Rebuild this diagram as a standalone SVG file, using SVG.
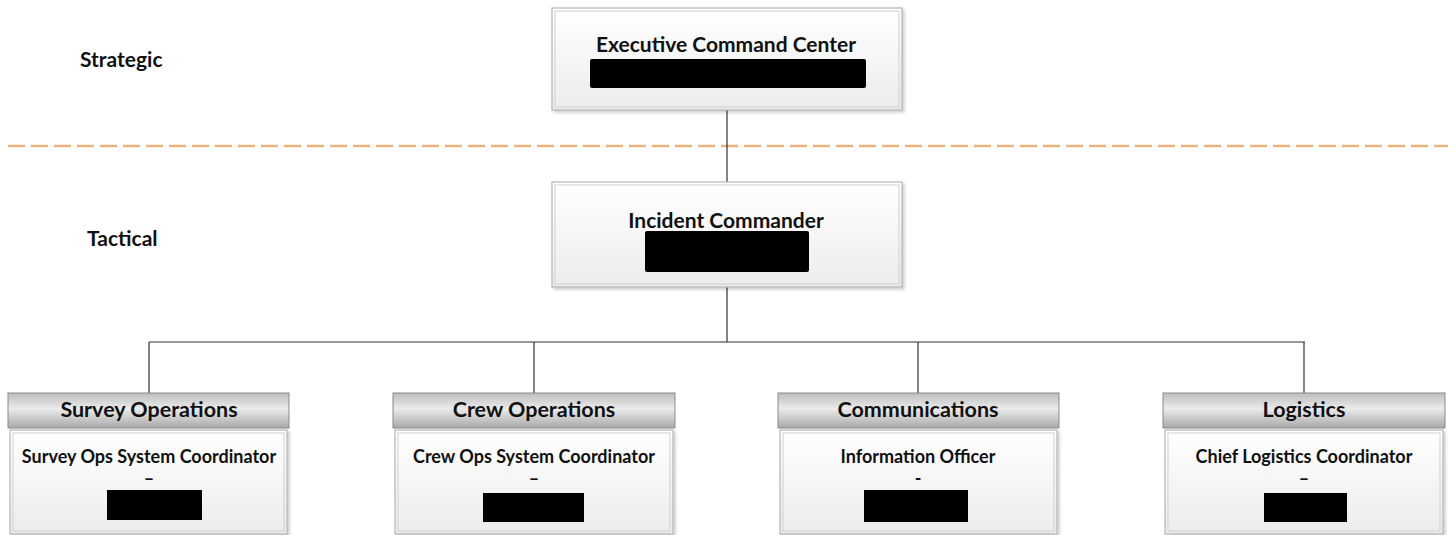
<svg xmlns="http://www.w3.org/2000/svg" width="1456" height="535" viewBox="0 0 1456 535">
<defs>
<linearGradient id="boxg" x1="0" y1="0" x2="0" y2="1">
<stop offset="0" stop-color="#ffffff"/>
<stop offset="1" stop-color="#ececec"/>
</linearGradient>
<linearGradient id="hdrg" x1="0" y1="0" x2="0" y2="1">
<stop offset="0" stop-color="#bdbdbd"/>
<stop offset="0.45" stop-color="#ebebeb"/>
<stop offset="1" stop-color="#a8a8a8"/>
</linearGradient>
<filter id="sh" x="-5%" y="-5%" width="110%" height="120%">
<feDropShadow dx="2" dy="2" stdDeviation="1.5" flood-color="#000" flood-opacity="0.2"/>
</filter>
</defs>
<style>
.box{fill:url(#boxg);stroke:#b5b5b5;stroke-width:1.2}
.inner{fill:none;stroke:#cfcfcf;stroke-width:1}
.hdr{fill:url(#hdrg);stroke:#8a8a8a;stroke-width:1}
.t{font-family:Lato,"Liberation Sans",sans-serif;font-weight:bold;fill:#111;text-anchor:middle}
.big{font-size:21px}
.hd{font-size:21.5px}
.sm{font-size:18px}
.lbl{font-family:Lato,"Liberation Sans",sans-serif;font-weight:bold;font-size:21px;fill:#111}
.red{fill:#000}
.con{stroke:#333;stroke-width:1.2;fill:none}
</style>
<rect width="1456" height="535" fill="#ffffff"/>
<line x1="8" y1="146" x2="1448" y2="146" stroke="#eab27c" stroke-width="2.5" stroke-dasharray="17,6"/>
<text class="lbl" x="80" y="67">Strategic</text>
<text class="lbl" x="87" y="246">Tactical</text>
<g id="connectors">
<path class="con" d="M727,110 V182 M727,287 V342 M149,342 H1305 M149,342 V393 M534,342 V393 M918,342 V393 M1304,342 V393"/>
</g>
<g id="exec">
<rect class="box" x="552" y="8" width="350" height="102" filter="url(#sh)"/>
<rect class="inner" x="555" y="11" width="344" height="96"/>
<text class="t big" x="726" y="52">Executive Command Center</text>
<rect class="red" x="590" y="59" width="276" height="29" rx="2"/>
</g>
<g id="incident">
<rect class="box" x="552" y="182" width="350" height="105" filter="url(#sh)"/>
<rect class="inner" x="555" y="185" width="344" height="99"/>
<text class="t big" x="726" y="228">Incident Commander</text>
<rect class="red" x="645" y="231" width="164" height="41" rx="2"/>
</g>
<g id="survey">
<rect class="hdr" x="8" y="393" width="281" height="35"/>
<text class="t hd" x="149" y="417">Survey Operations</text>
<rect class="box" x="10" y="430" width="277" height="104" filter="url(#sh)"/>
<rect class="inner" x="13" y="433" width="271" height="98"/>
<text class="t sm" x="149" y="463">Survey Ops System Coordinator</text>
<text class="t sm" x="149" y="485">–</text>
<rect class="red" x="107" y="490" width="95" height="30"/>
</g>
<g id="crew">
<rect class="hdr" x="393" y="393" width="282" height="35"/>
<text class="t hd" x="534" y="417">Crew Operations</text>
<rect class="box" x="395" y="430" width="278" height="104" filter="url(#sh)"/>
<rect class="inner" x="398" y="433" width="272" height="98"/>
<text class="t sm" x="534" y="463">Crew Ops System Coordinator</text>
<text class="t sm" x="534" y="485">–</text>
<rect class="red" x="483" y="493" width="101" height="29"/>
</g>
<g id="comms">
<rect class="hdr" x="778" y="393" width="281" height="35"/>
<text class="t hd" x="918" y="417">Communications</text>
<rect class="box" x="780" y="430" width="277" height="104" filter="url(#sh)"/>
<rect class="inner" x="783" y="433" width="271" height="98"/>
<text class="t sm" x="918" y="463">Information Officer</text>
<text class="t sm" x="918" y="485">-</text>
<rect class="red" x="864" y="490" width="104" height="32"/>
</g>
<g id="logistics">
<rect class="hdr" x="1163" y="393" width="282" height="35"/>
<text class="t hd" x="1304" y="417">Logistics</text>
<rect class="box" x="1165" y="430" width="278" height="104" filter="url(#sh)"/>
<rect class="inner" x="1168" y="433" width="272" height="98"/>
<text class="t sm" x="1304" y="463">Chief Logistics Coordinator</text>
<text class="t sm" x="1304" y="485">–</text>
<rect class="red" x="1264" y="493" width="83" height="29"/>
</g>
</svg>
